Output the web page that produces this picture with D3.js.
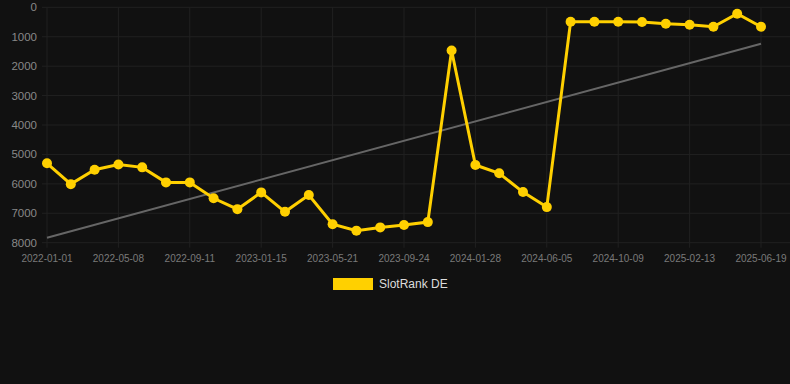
<!DOCTYPE html>
<html>
<head>
<meta charset="utf-8">
<script src="https://cdn.jsdelivr.net/npm/d3@7"></script>
<style>
  html, body { margin: 0; padding: 0; background: #111111; }
  svg { display: block; }
</style>
</head>
<body>
<svg id="chart" width="790" height="384"></svg>
<script>
// ---- data ----
const dates = [
  "2022-01-01","2022-02-12","2022-03-26","2022-05-08","2022-06-19","2022-07-31",
  "2022-09-11","2022-10-23","2022-12-04","2023-01-15","2023-02-26","2023-04-09",
  "2023-05-21","2023-07-02","2023-08-13","2023-09-24","2023-11-05","2023-12-17",
  "2024-01-28","2024-03-10","2024-04-24","2024-06-05","2024-07-17","2024-08-28",
  "2024-10-09","2024-11-20","2025-01-02","2025-02-13","2025-03-27","2025-05-08",
  "2025-06-19"
];
const rankValues = [
  5300, 6010, 5520, 5340, 5440, 5950,
  5950, 6490, 6860, 6290, 6950, 6380,
  7370, 7590, 7480, 7400, 7300, 1470,
  5360, 5640, 6280, 6790, 490, 490,
  490, 500, 560, 590, 660, 220,
  660
];
const trendValues = [7830, 1240]; // at first and last date
const yTicks = [0, 1000, 2000, 3000, 4000, 5000, 6000, 7000, 8000];
const xTickLabels = ["2022-01-01","2022-05-08","2022-09-11","2023-01-15","2023-05-21",
  "2023-09-24","2024-01-28","2024-06-05","2024-10-09","2025-02-13","2025-06-19"];
const seriesName = "SlotRank DE";

// ---- layout ----
const svg = d3.select("#chart");
const plotLeft = 42, plotRight = 790, plotTop = 7.3, plotBottom = 242.7;
const xFirst = 47, xLast = 761;

const x = d3.scalePoint().domain(dates).range([xFirst, xLast]);
const y = d3.scaleLinear().domain([0, 8000]).range([plotTop, plotBottom]);

const gridColor = "#212121";
const yellow = "#FFD000";

// horizontal grid
svg.append("g").selectAll("line").data(yTicks).join("line")
  .attr("x1", plotLeft).attr("x2", plotRight)
  .attr("y1", d => y(d)).attr("y2", d => y(d))
  .attr("stroke", gridColor).attr("stroke-width", 1);

// vertical grid + tick marks
svg.append("g").selectAll("line").data(xTickLabels).join("line")
  .attr("x1", d => x(d)).attr("x2", d => x(d))
  .attr("y1", plotTop).attr("y2", plotBottom + 5)
  .attr("stroke", gridColor).attr("stroke-width", 1);

// y axis labels
svg.append("g").selectAll("text").data(yTicks).join("text")
  .attr("x", 37).attr("y", d => y(d))
  .attr("dy", "0.35em")
  .attr("text-anchor", "end")
  .attr("font-family", "Liberation Sans, Arial, sans-serif")
  .attr("font-size", "11.5px")
  .attr("fill", "#888888")
  .text(d => d);

// x axis labels
svg.append("g").selectAll("text").data(xTickLabels).join("text")
  .attr("x", d => x(d)).attr("y", 262)
  .attr("text-anchor", "middle")
  .attr("font-family", "Liberation Sans, Arial, sans-serif")
  .attr("font-size", "10px")
  .attr("fill", "#7a7a7a")
  .text(d => d);

// trend line
const trendDates = [dates[0], dates[dates.length - 1]];
svg.append("line")
  .attr("x1", x(trendDates[0])).attr("y1", y(trendValues[0]))
  .attr("x2", x(trendDates[1])).attr("y2", y(trendValues[1]))
  .attr("stroke", "#666666").attr("stroke-width", 2);

// series line
const data = dates.map((d, i) => ({ d, v: rankValues[i] }));
svg.append("path")
  .datum(data)
  .attr("fill", "none")
  .attr("stroke", yellow)
  .attr("stroke-width", 3)
  .attr("stroke-linejoin", "miter")
  .attr("d", d3.line().x(p => x(p.d)).y(p => y(p.v)));

// points
svg.append("g").selectAll("circle").data(data).join("circle")
  .attr("cx", p => x(p.d)).attr("cy", p => y(p.v))
  .attr("r", 5)
  .attr("fill", yellow);

// legend
const lg = svg.append("g");
lg.append("rect").attr("x", 333).attr("y", 278).attr("width", 40).attr("height", 12)
  .attr("fill", yellow);
lg.append("text").attr("x", 379).attr("y", 284).attr("dy", "0.35em")
  .attr("font-family", "Liberation Sans, Arial, sans-serif")
  .attr("font-size", "12px")
  .attr("fill", "#dddddd")
  .text(seriesName);
</script>
</body>
</html>
